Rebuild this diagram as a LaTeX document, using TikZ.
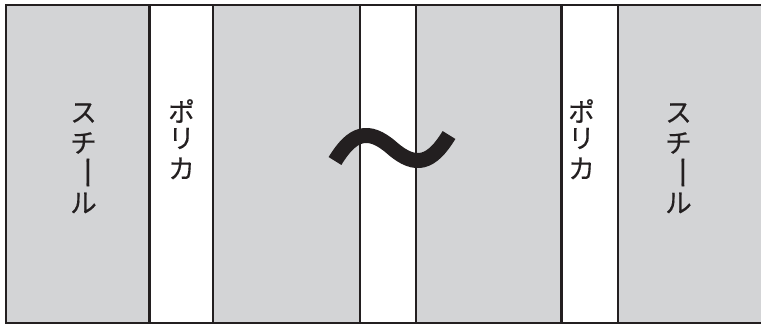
\documentclass[tikz,border=0pt]{standalone}
\usepackage{fontspec}
\newfontfamily\jp[FakeBold=0.4]{Noto Sans CJK JP}
\definecolor{steelgray}{HTML}{D3D4D6}
\definecolor{ink}{HTML}{231F20}
\begin{document}
\begin{tikzpicture}[x=1pt,y=-1pt,
  panelgray/.style={fill=steelgray,draw=none},
  panelwhite/.style={fill=white,draw=none},
  border/.style={draw=ink,line width=2.2pt},
  glyph/.style={inner sep=0pt,font=\jp\fontsize{26.5}{26.5}\selectfont,text=ink}]
\useasboundingbox (0,0) rectangle (761,324);
% panels
\path[panelgray] (6,5.3) rectangle (149.5,323);
\path[panelwhite] (149.5,5.3) rectangle (213,323);
\path[panelgray] (213,5.3) rectangle (360,323);
\path[panelwhite] (360,5.3) rectangle (416,323);
\path[panelgray] (416,5.3) rectangle (561.5,323);
\path[panelwhite] (561.5,5.3) rectangle (618,323);
\path[panelgray] (618,5.3) rectangle (761,323);
% borders
\coordinate (tl) at (5,5.3);
\coordinate (tr) at (761,5.3);
\coordinate (bl) at (5,323);
\coordinate (br) at (761,323);
\draw[border] (tl) -- (tr);
\draw[border] (bl) -- (br);
\draw[border] (6,4.2) -- (6,324);
\foreach \xx in {149.5,213,360,416,561.5,618}{
  \draw[border] (\xx,5.3) -- (\xx,323);
}
% left steel text
\node[glyph] (s1) at (83.5,113) {ス};
\node[glyph] (s2) at (83.5,143) {チ};
\node[glyph] (s3) at (83.5,172.5) {\rotatebox[origin=c]{-90}{\scalebox{1.3}[1]{ー}}};
\node[glyph] (s4) at (83.5,203) {ル};
% left polycarbonate text
\node[glyph] (p1) at (181.5,111) {ポ};
\node[glyph] (p2) at (181.5,138.5) {リ};
\node[glyph] (p3) at (181.5,168.5) {カ};
% right polycarbonate text
\node[glyph] (q1) at (581.5,111) {ポ};
\node[glyph] (q2) at (581.5,138.5) {リ};
\node[glyph] (q3) at (581.5,168.5) {カ};
% right steel text
\node[glyph] (t1) at (678.5,113) {ス};
\node[glyph] (t2) at (678.5,143) {チ};
\node[glyph] (t3) at (678.5,172.5) {\rotatebox[origin=c]{-90}{\scalebox{1.3}[1]{ー}}};
\node[glyph] (t4) at (678.5,203) {ル};
% tilde
\coordinate (w0) at (335,161);
\coordinate (w1) at (392,148);
\coordinate (w2) at (449,135);
\draw[draw=ink,line width=15pt,line cap=butt]
  (w0) .. controls (352,133) and (368,127) .. (w1)
       .. controls (416,169) and (432,163) .. (w2);
\end{tikzpicture}
\end{document}
